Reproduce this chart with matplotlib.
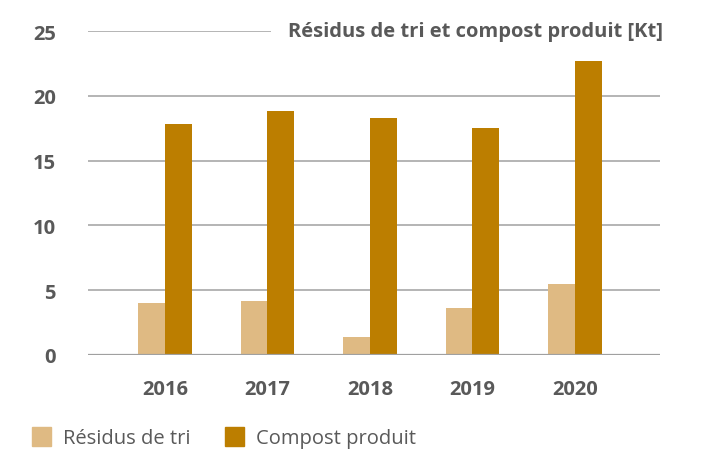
import matplotlib.pyplot as plt
import numpy as np
from matplotlib.patches import Patch

years = ['2016', '2017', '2018', '2019', '2020']
residus = [4.0, 4.15, 1.4, 3.6, 5.5]
compost = [17.8, 18.85, 18.3, 17.5, 22.7]

C_LIGHT = '#DFBA83'
C_DARK = '#BC7E00'
C_TEXT = '#595959'
FONT = 'Open Sans'

plt.rcParams['font.family'] = [FONT, 'DejaVu Sans']

fig = plt.figure(figsize=(7.06, 4.52), dpi=100)
ax = fig.add_axes([0.1246, 0.2124, 0.8104, 0.7166])

x = np.arange(len(years))
w = 0.26
ax.bar(x - w / 2, residus, w, color=C_LIGHT, label='Résidus de tri', zorder=2)
ax.bar(x + w / 2, compost, w, color=C_DARK, label='Compost produit', zorder=2)

ax.set_ylim(0, 25)
ax.set_xlim(-0.75, 4.83)
ax.set_yticks([0, 5, 10, 15, 20, 25])
ax.yaxis.grid(True, color='#a0a0a0', linewidth=1.1, zorder=0)
ax.axhline(0, color='#a0a0a0', linewidth=1.6, zorder=3)
ax.set_xticks(x)
ax.set_xticklabels(years)
for s in ax.spines.values():
    s.set_visible(False)
ax.tick_params(length=0, labelsize=14.5, labelcolor=C_TEXT)
ax.tick_params(axis='x', pad=17)
ax.tick_params(axis='y', pad=23)
for lab in ax.get_xticklabels() + ax.get_yticklabels():
    lab.set_fontweight('bold')

# title sits on the 25 gridline, white box hides the line underneath
ax.text(4.86, 25, 'Résidus de tri et compost produit [Kt]', ha='right', va='center',
        fontsize=14.5, fontweight='bold', color=C_TEXT, zorder=5,
        bbox=dict(facecolor='white', edgecolor='none', pad=12))

handles = [Patch(color=C_LIGHT), Patch(color=C_DARK)]
fig.legend(handles, ['Résidus de tri', 'Compost produit'], loc='center left',
           bbox_to_anchor=(0.02, 0.03), ncol=2, frameon=False, fontsize=14.5,
           labelcolor=C_TEXT, handlelength=0.95, handleheight=1.1, columnspacing=1.7,
           handletextpad=0.6)

fig.savefig('out.png', dpi=100)
